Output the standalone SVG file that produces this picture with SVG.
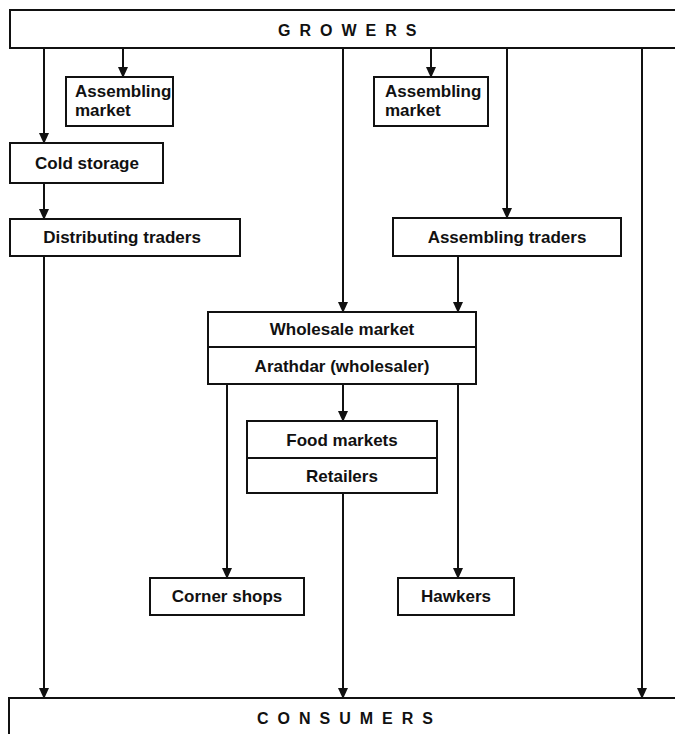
<svg xmlns="http://www.w3.org/2000/svg" width="675" height="734" viewBox="0 0 675 734">
<style>
.box{fill:#fff;stroke:#111;stroke-width:2}
.ln{fill:none;stroke:#111;stroke-width:2}
.t{font-family:"Liberation Sans",Arial,sans-serif;font-size:17px;font-weight:bold;fill:#111}
.c{text-anchor:middle}
.big{font-size:16px;letter-spacing:9px}
</style>
<defs>
<marker id="ah" markerWidth="10" markerHeight="12" refX="10" refY="5" orient="auto" markerUnits="userSpaceOnUse">
<path d="M0,0 L11,5 L0,10 z" fill="#111"/>
</marker>
</defs>
<rect width="675" height="734" fill="#fff"/>
<g id="connectors">
<line class="ln" x1="44" y1="48" x2="44" y2="143" marker-end="url(#ah)"/>
<line class="ln" x1="123" y1="48" x2="123" y2="77" marker-end="url(#ah)"/>
<line class="ln" x1="431" y1="48" x2="431" y2="77" marker-end="url(#ah)"/>
<line class="ln" x1="507" y1="48" x2="507" y2="218" marker-end="url(#ah)"/>
<line class="ln" x1="343" y1="48" x2="343" y2="312" marker-end="url(#ah)"/>
<line class="ln" x1="642" y1="48" x2="642" y2="698" marker-end="url(#ah)"/>
<line class="ln" x1="44" y1="183" x2="44" y2="219" marker-end="url(#ah)"/>
<line class="ln" x1="44" y1="256" x2="44" y2="698" marker-end="url(#ah)"/>
<line class="ln" x1="458" y1="256" x2="458" y2="312" marker-end="url(#ah)"/>
<line class="ln" x1="343" y1="384" x2="343" y2="421" marker-end="url(#ah)"/>
<line class="ln" x1="227" y1="384" x2="227" y2="578" marker-end="url(#ah)"/>
<line class="ln" x1="458" y1="384" x2="458" y2="578" marker-end="url(#ah)"/>
<line class="ln" x1="343" y1="493" x2="343" y2="698" marker-end="url(#ah)"/>
</g>
<g id="growers">
<rect class="box" x="10" y="10" width="680" height="38"/>
<text class="t big" x="278" y="36">GROWERS</text>
</g>
<g id="assembling-market-1">
<rect class="box" x="66" y="77" width="107" height="49"/>
<text class="t" x="75" y="97">Assembling</text>
<text class="t" x="75" y="116">market</text>
</g>
<g id="assembling-market-2">
<rect class="box" x="374" y="77" width="114" height="49"/>
<text class="t" x="385" y="97">Assembling</text>
<text class="t" x="385" y="116">market</text>
</g>
<g id="cold-storage">
<rect class="box" x="10" y="143" width="153" height="40"/>
<text class="t c" x="87" y="169">Cold storage</text>
</g>
<g id="distributing-traders">
<rect class="box" x="10" y="219" width="230" height="37"/>
<text class="t c" x="122" y="243">Distributing traders</text>
</g>
<g id="assembling-traders">
<rect class="box" x="393" y="218" width="228" height="38"/>
<text class="t c" x="507" y="243">Assembling traders</text>
</g>
<g id="wholesale-market">
<rect class="box" x="208" y="312" width="268" height="72"/>
<line class="ln" x1="208" y1="347" x2="476" y2="347"/>
<text class="t c" x="342" y="335">Wholesale market</text>
<text class="t c" x="342" y="372">Arathdar (wholesaler)</text>
</g>
<g id="food-markets">
<rect class="box" x="247" y="421" width="190" height="72"/>
<line class="ln" x1="247" y1="458" x2="437" y2="458"/>
<text class="t c" x="342" y="446">Food markets</text>
<text class="t c" x="342" y="482">Retailers</text>
</g>
<g id="corner-shops">
<rect class="box" x="150" y="578" width="154" height="37"/>
<text class="t c" x="227" y="602">Corner shops</text>
</g>
<g id="hawkers">
<rect class="box" x="398" y="578" width="116" height="37"/>
<text class="t c" x="456" y="602">Hawkers</text>
</g>
<g id="consumers">
<rect class="box" x="9" y="698" width="680" height="50"/>
<text class="t big" x="257" y="724">CONSUMERS</text>
</g>
</svg>
